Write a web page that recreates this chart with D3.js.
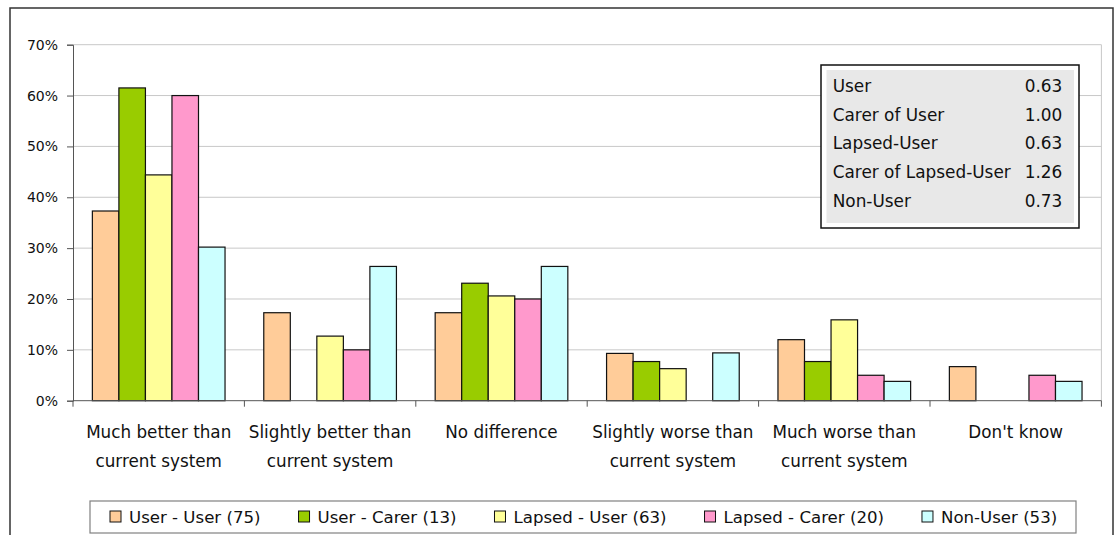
<!DOCTYPE html>
<html>
<head>
<meta charset="utf-8">
<script src="https://cdn.jsdelivr.net/npm/d3@7"></script>
<style>
  html, body { margin: 0; padding: 0; background: #fff; }
  svg { display: block; }
  text { font-family: "DejaVu Sans", Verdana, sans-serif; fill: #111; }
</style>
</head>
<body>
<svg id="chart" width="1119" height="535"></svg>
<script>
// Response categories (wrapped onto two lines where needed)
const categoryLines = [
  ["Much better than", "current system"],
  ["Slightly better than", "current system"],
  ["No difference"],
  ["Slightly worse than", "current system"],
  ["Much worse than", "current system"],
  ["Don't know"]
];

// Respondent groups and their shares (%) per category
const seriesNames = ["User - User (75)", "User - Carer (13)", "Lapsed - User (63)", "Lapsed - Carer (20)", "Non-User (53)"];
const userUser    = [37.3, 17.3, 17.3, 9.3, 12.0, 6.7];
const userCarer   = [61.5, 0.0, 23.1, 7.7, 7.7, 0.0];
const lapsedUser  = [44.4, 12.7, 20.6, 6.3, 15.9, 0.0];
const lapsedCarer = [60.0, 10.0, 20.0, 0.0, 5.0, 5.0];
const nonUser     = [30.2, 26.4, 26.4, 9.4, 3.8, 3.8];
const seriesColors = ["#FFCC99", "#99CC00", "#FFFF99", "#FF99CC", "#CCFFFF"];

// Y axis ticks
const yTicks = [0, 10, 20, 30, 40, 50, 60, 70];

// Summary score table
const tableLabels = ["User", "Carer of User", "Lapsed-User", "Carer of Lapsed-User", "Non-User"];
const tableValues = ["0.63", "1.00", "0.63", "1.26", "0.73"];

const allSeries = [userUser, userCarer, lapsedUser, lapsedCarer, nonUser];
const catIds = categoryLines.map((_, i) => i);

const svg = d3.select("#chart");

// Outer chart frame
svg.append("rect")
  .attr("x", 10).attr("y", 8).attr("width", 1103).attr("height", 560)
  .attr("fill", "none").attr("stroke", "#333").attr("stroke-width", 1.5);

const plot = { left: 73, right: 1101.4, top: 44.7, bottom: 400.7 };

const x0 = d3.scaleBand().domain(catIds).range([plot.left, plot.right]).paddingInner(0).paddingOuter(0);
const x1 = d3.scaleBand().domain(d3.range(seriesNames.length)).range([0, x0.bandwidth()]).paddingInner(0).paddingOuter(0.73);
const y = d3.scaleLinear().domain([0, 70]).range([plot.bottom, plot.top]);

// Gridlines
svg.append("g").selectAll("line").data(yTicks.filter(t => t > 0)).join("line")
  .attr("x1", plot.left).attr("x2", plot.right)
  .attr("y1", d => y(d)).attr("y2", d => y(d))
  .attr("stroke", "#c8c8c8").attr("stroke-width", 1);

// Right border of plot area
svg.append("line")
  .attr("x1", plot.right).attr("x2", plot.right)
  .attr("y1", plot.top).attr("y2", plot.bottom)
  .attr("stroke", "#c8c8c8").attr("stroke-width", 1);

// Bars
const groups = svg.append("g").selectAll("g").data(catIds).join("g")
  .attr("transform", c => `translate(${x0(c)},0)`);
groups.selectAll("rect")
  .data(c => allSeries.map((s, i) => ({ i, v: s[c] })).filter(d => d.v > 0))
  .join("rect")
  .attr("x", d => x1(d.i))
  .attr("width", x1.bandwidth())
  .attr("y", d => y(d.v))
  .attr("height", d => y(0) - y(d.v))
  .attr("fill", d => seriesColors[d.i])
  .attr("stroke", "#111").attr("stroke-width", 1.2);

// Y axis
const yAxis = svg.append("g")
  .attr("transform", `translate(${plot.left},0)`)
  .call(d3.axisLeft(y).tickValues(yTicks).tickFormat(d => d + "%").tickSize(6).tickPadding(9));
yAxis.select(".domain").attr("stroke", "#555");
yAxis.selectAll(".tick line").attr("stroke", "#555");
yAxis.selectAll("text").attr("font-size", 14).attr("fill", "#111")
  .style("font-family", '"DejaVu Sans", Verdana, sans-serif');

// X axis with category boundary ticks
const xAxis = svg.append("g").attr("transform", `translate(0,${plot.bottom})`);
xAxis.append("line").attr("x1", plot.left).attr("x2", plot.right)
  .attr("stroke", "#555");
xAxis.selectAll("line.b").data(catIds.concat([catIds.length])).join("line")
  .attr("class", "b")
  .attr("x1", c => c < catIds.length ? x0(c) : plot.right)
  .attr("x2", c => c < catIds.length ? x0(c) : plot.right)
  .attr("y1", 0).attr("y2", 6).attr("stroke", "#555");

// Category labels
const labels = svg.append("g").selectAll("text").data(catIds).join("text")
  .attr("text-anchor", "middle")
  .attr("font-size", 16.8)
  .attr("x", c => x0(c) + x0.bandwidth() / 2)
  .attr("y", 438);
labels.selectAll("tspan").data(c => categoryLines[c]).join("tspan")
  .attr("x", function () { return d3.select(this.parentNode).attr("x"); })
  .attr("dy", (d, i) => i === 0 ? 0 : 28.5)
  .text(d => d);

// Legend
const legend = svg.append("g");
legend.append("rect")
  .attr("x", 90).attr("y", 501).attr("width", 986).attr("height", 32)
  .attr("fill", "#fff").attr("stroke", "#808080").attr("stroke-width", 1.2);
let lx = 110;
seriesNames.forEach((name, i) => {
  legend.append("rect")
    .attr("x", lx).attr("y", 511).attr("width", 11).attr("height", 11)
    .attr("fill", seriesColors[i]).attr("stroke", "#111").attr("stroke-width", 1);
  const t = legend.append("text")
    .attr("x", lx + 19).attr("y", 522.5)
    .attr("font-size", 16.6)
    .text(name);
  lx += 19 + t.node().getComputedTextLength() + 38;
});

// Score table
const table = svg.append("g");
table.append("rect")
  .attr("x", 821).attr("y", 65).attr("width", 258).attr("height", 163)
  .attr("fill", "#fff").attr("stroke", "#111").attr("stroke-width", 1.5);
table.append("rect")
  .attr("x", 826.5).attr("y", 70).attr("width", 247.5).attr("height", 153)
  .attr("fill", "#e8e8e8");
const rowY = d3.scaleLinear().domain([0, 4]).range([91.7, 207]);
table.selectAll("text.lab").data(tableLabels).join("text")
  .attr("class", "lab")
  .attr("x", 832.7).attr("y", (d, i) => rowY(i))
  .attr("font-size", 16.9)
  .text(d => d);
table.selectAll("text.val").data(tableValues).join("text")
  .attr("class", "val")
  .attr("x", 1062.3).attr("y", (d, i) => rowY(i))
  .attr("text-anchor", "end")
  .attr("font-size", 16.9)
  .text(d => d);
</script>
</body>
</html>
